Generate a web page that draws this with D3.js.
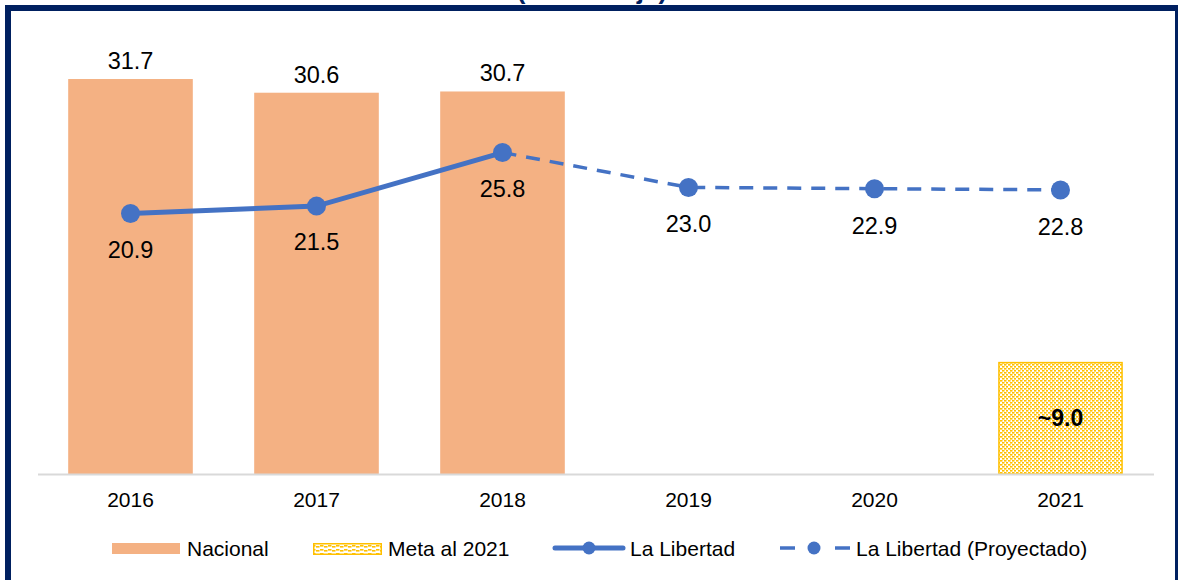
<!DOCTYPE html>
<html><head><meta charset="utf-8">
<script src="https://cdn.jsdelivr.net/npm/d3@7"></script>
<style>
html,body{margin:0;padding:0;background:#fff;}
svg{display:block;font-family:"Liberation Sans",Arial,sans-serif;}
</style></head>
<body>
<svg id="c" width="1181" height="580"></svg>
<script>
const years = ["2016","2017","2018","2019","2020","2021"];
const nacional = [31.7, 30.6, 30.7, null, null, null];
const meta = [null, null, null, null, null, 9.0];
const libertad = [20.9, 21.5, 25.8, null, null, null];
const proyectado = [null, null, 25.8, 23.0, 22.9, 22.8];
const proyLabels = [null, null, null, "23.0", "22.9", "22.8"];
const metaLabel = "~9.0";
const legendItems = ["Nacional", "Meta al 2021", "La Libertad", "La Libertad (Proyectado)"];
const titleText = "(Porcentaje)";

const svg = d3.select("#c");
const blue = "#4472C4", orange = "#F4B183", gold = "#FFC000", frame = "#002060";

const defs = svg.append("defs");
const pat = defs.append("pattern").attr("id","meta").attr("patternUnits","userSpaceOnUse")
  .attr("width",8).attr("height",8);
pat.append("rect").attr("width",8).attr("height",8).attr("fill","#fff");
[[0,0],[2,2],[4,4],[6,6],[4,0],[6,2],[0,4],[2,6]].forEach(([x,y])=>{
  pat.append("rect").attr("x",x).attr("y",y).attr("width",2.5).attr("height",1.6).attr("fill",gold);
});
const pat2 = defs.append("pattern").attr("id","metaL").attr("patternUnits","userSpaceOnUse")
  .attr("width",8).attr("height",4);
pat2.append("rect").attr("width",8).attr("height",4).attr("fill","#fff");
pat2.append("rect").attr("x",0).attr("y",1).attr("width",3.5).attr("height",1.6).attr("fill",gold);
pat2.append("rect").attr("x",4).attr("y",2).attr("width",3.5).attr("height",1.6).attr("fill",gold);

const x = d3.scaleBand().domain(years).range([37.5, 1153.5]).paddingInner(0.33).paddingOuter(0.165);
const xc = d => x(d) + x.bandwidth()/2;
const y = d3.scaleLinear().domain([0, 35]).range([474, 474 - 35*12.46]);

// title (mostly hidden behind frame, as in the source image)
svg.append("text").attr("x", 592).attr("y", -1).attr("text-anchor","middle")
  .attr("font-size",26).attr("font-weight","bold").attr("fill",frame).text(titleText);

// frame
svg.append("rect").attr("x",5).attr("y",5).attr("width",1173).attr("height",6).attr("fill",frame);
svg.append("rect").attr("x",5).attr("y",5).attr("width",6).attr("height",580).attr("fill",frame);
svg.append("rect").attr("x",1175).attr("y",5).attr("width",3).attr("height",580).attr("fill",frame);

// bars
const g = svg.append("g");
years.forEach((yr,i)=>{
  if (nacional[i] != null) {
    g.append("rect").attr("x", x(yr)).attr("y", y(nacional[i])).attr("width", x.bandwidth())
      .attr("height", y(0)-y(nacional[i])).attr("fill", orange);
    g.append("text").attr("x", xc(yr)).attr("y", y(nacional[i]) - 10).attr("text-anchor","middle")
      .attr("font-size",23.5).attr("fill","#000").text(nacional[i].toFixed(1));
  }
  if (meta[i] != null) {
    g.append("rect").attr("x", x(yr)+0.75).attr("y", y(meta[i])+0.75).attr("width", x.bandwidth()-1.5)
      .attr("height", y(0)-y(meta[i])-0.75).attr("fill","url(#meta)").attr("stroke",gold).attr("stroke-width",1.5);
    g.append("text").attr("x", xc(yr)).attr("y", (y(meta[i])+y(0))/2 + 8).attr("text-anchor","middle")
      .attr("font-size",23).attr("font-weight","bold").attr("fill","#000").text(metaLabel);
  }
});

// axis
const axis = svg.append("g").attr("transform",`translate(0,${y(0)})`)
  .call(d3.axisBottom(x).tickSize(0).tickPadding(18));
axis.select(".domain").attr("stroke","#d9d9d9").attr("stroke-width",2);
axis.selectAll("text").attr("font-size",21).attr("fill","#000").attr("font-family","Liberation Sans, Arial, sans-serif");

// projected dashed line
const lineGen = d3.line().defined(d=>d.v!=null).x(d=>xc(d.k)).y(d=>y(d.v));
const projData = years.map((k,i)=>({k, v: proyectado[i]}));
svg.append("path").datum(projData).attr("d", lineGen).attr("fill","none")
  .attr("stroke", blue).attr("stroke-width",3.5).attr("stroke-dasharray","14,10");
// solid line
const libData = years.map((k,i)=>({k, v: libertad[i]}));
svg.append("path").datum(libData).attr("d", lineGen).attr("fill","none")
  .attr("stroke", blue).attr("stroke-width",5).attr("stroke-linecap","round");

// markers + labels
libData.filter(d=>d.v!=null).forEach(d=>{
  svg.append("circle").attr("cx", xc(d.k)).attr("cy", y(d.v)).attr("r",9.5).attr("fill",blue);
  svg.append("text").attr("x", xc(d.k)).attr("y", y(d.v)+44).attr("text-anchor","middle")
    .attr("font-size",23.5).attr("fill","#000").text(d.v.toFixed(1));
});
projData.forEach((d,i)=>{
  if (proyLabels[i] == null) return;
  svg.append("circle").attr("cx", xc(d.k)).attr("cy", y(d.v)).attr("r",9.5).attr("fill",blue);
  svg.append("text").attr("x", xc(d.k)).attr("y", y(d.v)+45).attr("text-anchor","middle")
    .attr("font-size",23.5).attr("fill","#000").text(proyLabels[i]);
});

// legend
const ly = 548;
const lg = svg.append("g").attr("font-size",21).attr("fill","#000");
lg.append("rect").attr("x",112).attr("y",ly-5).attr("width",68).attr("height",11).attr("fill",orange);
lg.append("text").attr("x",187).attr("y",ly+8).text(legendItems[0]);
lg.append("rect").attr("x",313.75).attr("y",ly-4.25).attr("width",67.5).attr("height",10.5)
  .attr("fill","url(#metaL)").attr("stroke",gold).attr("stroke-width",1.5);
lg.append("text").attr("x",388).attr("y",ly+8).text(legendItems[1]);
lg.append("line").attr("x1",555).attr("x2",623).attr("y1",ly).attr("y2",ly)
  .attr("stroke",blue).attr("stroke-width",5).attr("stroke-linecap","round");
lg.append("circle").attr("cx",589).attr("cy",ly).attr("r",6.5).attr("fill",blue);
lg.append("text").attr("x",630).attr("y",ly+8).text(legendItems[2]);
lg.append("line").attr("x1",780).attr("x2",795).attr("y1",ly).attr("y2",ly).attr("stroke",blue).attr("stroke-width",3.5);
lg.append("line").attr("x1",835).attr("x2",850).attr("y1",ly).attr("y2",ly).attr("stroke",blue).attr("stroke-width",3.5);
lg.append("circle").attr("cx",814).attr("cy",ly).attr("r",6.5).attr("fill",blue);
lg.append("text").attr("x",856).attr("y",ly+8).text(legendItems[3]);
</script>
</body></html>
